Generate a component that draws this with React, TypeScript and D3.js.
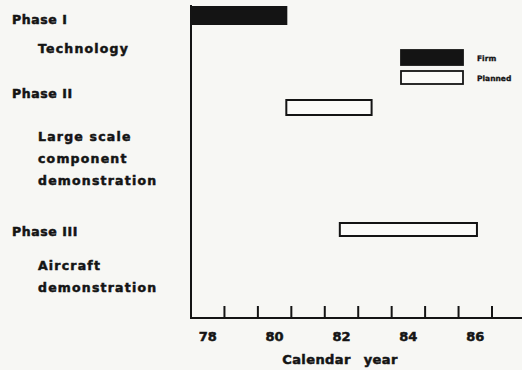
import * as d3 from "d3";

const phases = ["Phase I", "Phase II", "Phase III"];
const phaseLabels = [["Technology"], ["Large scale", "component", "demonstration"], ["Aircraft", "demonstration"]];
const barStart = [78, 80.85, 82.45];
const barEnd = [80.85, 83.4, 86.55];
const barStatus = ["Firm", "Planned", "Planned"];
const yearTicks = [78, 80, 82, 84, 86];
const legendItems = ["Firm", "Planned"];

export default function App() {
  const width = 522;
  const height = 370;
  const ink = "#141414";
  const paper = "#f7f7f4";
  const x = d3.scaleLinear([78, 87], [191, 492]);
  const rowY = d3.scaleOrdinal(phases, [15.5, 107.5, 229.5]);
  const headY = d3.scaleOrdinal(phases, [20, 94, 232]);
  const subY = d3.scaleOrdinal(phases, [49, 137, 266]);
  const lineH = 22;
  const barH = [17, 15, 13];
  const font = "'DejaVu Sans', Verdana, sans-serif";
  const boundaries = d3.range(79, 88);

  return (
    <svg width={width} height={height} style={{ position: "absolute", left: 0, top: 0, background: paper }}
      fontFamily={font} fontWeight="bold" fill={ink}>
      {/* axes */}
      <line x1={x(78)} x2={x(78)} y1={5} y2={319} stroke={ink} strokeWidth={2} />
      <line x1={x(78) - 1} x2={width} y1={318} y2={318} stroke={ink} strokeWidth={2} />
      {boundaries.map(b => (
        <line key={b} x1={x(b)} x2={x(b)} y1={306} y2={318} stroke={ink} strokeWidth={2} />
      ))}

      <g stroke={ink} strokeWidth={0.5}>
        {yearTicks.map(t => (
          <text key={t} x={x(t + 0.5)} y={341} textAnchor="middle" fontSize={13}>{t}</text>
        ))}
        <text x={340} y={364} textAnchor="middle" fontSize={13} letterSpacing={0.4} wordSpacing={8}>Calendar year</text>

        {/* left labels */}
        {phases.map((p, i) => (
          <g key={p}>
            <text x={12} y={headY(p)} dy="0.35em" fontSize={12.5} letterSpacing={0.6}>{p}</text>
            {phaseLabels[i].map((l, j) => (
              <text key={j} x={38} y={subY(p) + j * lineH} dy="0.35em" fontSize={12.5} letterSpacing={1.2}>{l}</text>
            ))}
          </g>
        ))}
      </g>

      {/* bars */}
      {phases.map((p, i) => (
        <rect key={p} x={x(barStart[i])} y={rowY(p) - barH[i] / 2}
          width={x(barEnd[i]) - x(barStart[i])} height={barH[i]}
          fill={barStatus[i] === "Firm" ? ink : "#fbfbf9"} stroke={ink} strokeWidth={2} />
      ))}

      {/* legend */}
      {legendItems.map((l, i) => (
        <g key={l} transform={`translate(401,${50 + i * 21})`}>
          <rect width={62} height={i === 0 ? 15 : 13} fill={l === "Firm" ? ink : "#fbfbf9"} stroke={ink} strokeWidth={1.8} />
          <text x={76} y={i === 0 ? 8 : 7} dy="0.35em" fontSize={7.5} stroke={ink} strokeWidth={0.3}>{l}</text>
        </g>
      ))}
    </svg>
  );
}
